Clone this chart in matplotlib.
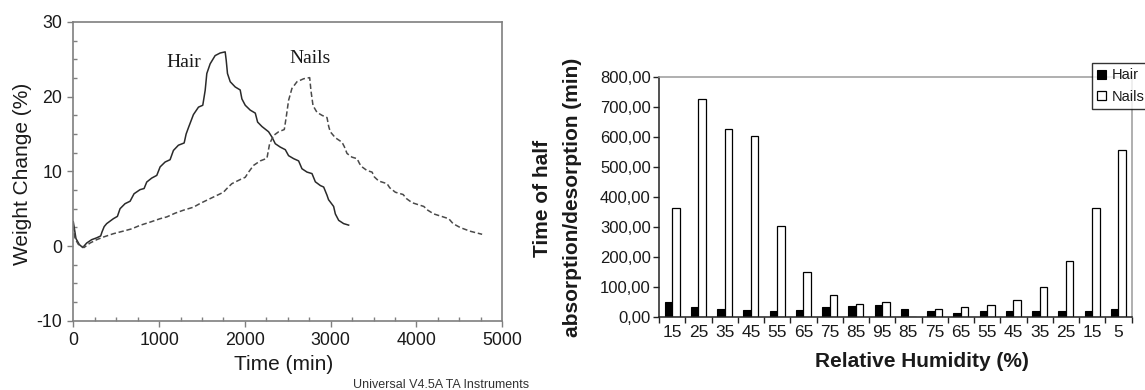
import matplotlib
matplotlib.use("Agg")
import matplotlib.pyplot as plt
import numpy as np
from matplotlib.ticker import MultipleLocator

# ---------------- data: left panel (sorption isotherm kinetics) ----------------
hair_time = [0, 31, 70, 110, 156, 214, 273, 319, 335, 360, 389, 467, 514,
             545, 603, 662, 708, 778, 825, 856, 914, 973, 1012, 1070, 1128,
             1167, 1225, 1292, 1315, 1342, 1400, 1459, 1509, 1537, 1556, 1595,
             1653, 1712, 1770, 1782, 1797, 1829, 1887, 1945, 1965, 2004, 2062,
             2121, 2148, 2199, 2276, 2315, 2354, 2412, 2471, 2509, 2568, 2626,
             2665, 2724, 2782, 2821, 2879, 2918, 2957, 2975, 2995, 3034, 3054,
             3093, 3151, 3209]
hair_weight = [3.25, 1.0, 0.2, -0.2, 0.4, 0.85, 1.1, 1.35, 1.9, 2.6, 3.0, 3.66, 3.97,
               5.0, 5.67, 6.0, 7.0, 7.55, 7.7, 8.57, 9.1, 9.46, 10.6, 11.25, 11.56,
               12.8, 13.5, 13.8, 15.0, 15.85, 17.6, 18.6, 18.85, 20.85, 23.1, 24.4,
               25.5, 25.85, 26.0, 24.9, 23.1, 22.0, 21.3, 20.9, 19.7, 18.85, 18.2,
               17.8, 16.6, 16.0, 15.3, 14.6, 13.7, 13.25, 12.9, 12.1, 11.7, 11.4,
               10.35, 9.9, 9.7, 8.6, 8.1, 7.9, 6.8, 6.2, 5.9, 5.3, 4.3,
               3.44, 3.0, 2.8]

nails_time = [0, 20, 59, 125, 195, 273, 350, 467, 584, 681, 778, 895, 1012, 1090,
              1187, 1284, 1400, 1478, 1595, 1750, 1790, 1848, 1945, 2004, 2043,
              2101, 2179, 2257, 2288, 2334, 2393, 2459, 2482, 2509, 2548, 2607,
              2685, 2755, 2770, 2794, 2840, 2899, 2957, 2977, 2995, 3054, 3132,
              3159, 3190, 3248, 3307, 3338, 3365, 3424, 3482, 3509, 3560, 3657,
              3688, 3754, 3844, 3883, 3949, 4085, 4131, 4201, 4376, 4426, 4512,
              4629, 4765]
nails_weight = [2.8, 1.0, 0.22, -0.2, 0.4, 0.85, 1.2, 1.65, 2.0, 2.3, 2.77, 3.2, 3.66, 3.9,
                4.4, 4.8, 5.2, 5.7, 6.35, 7.2, 7.7, 8.35, 8.9, 9.2, 9.9,
                10.8, 11.4, 11.75, 13.7, 14.8, 15.3, 15.6, 17.3, 19.5, 21.1, 22.0,
                22.4, 22.55, 20.8, 18.8, 17.9, 17.5, 17.2, 16.0, 15.3, 14.5, 13.9,
                13.3, 12.4, 11.9, 11.7, 11.0, 10.6, 10.1, 9.9, 9.25, 8.7, 8.35,
                7.8, 7.2, 6.9, 6.35, 5.8, 5.3, 4.8, 4.3, 3.66, 3.0, 2.46,
                1.97, 1.57]

# ---------------- data: right panel (half-time bars) ----------------
rh_labels = ["15", "25", "35", "45", "55", "65", "75", "85", "95",
             "85", "75", "65", "55", "45", "35", "25", "15", "5"]
hair_half = [48, 31, 27, 22, 19, 22, 31, 36, 39, 27, 18, 13, 18, 18, 18, 18, 18, 27]
nails_half = [363, 727, 627, 601, 303, 148, 74, 44, 48, 0, 27, 31, 39, 57, 100, 187, 363, 556]
y_ticks = [0, 100, 200, 300, 400, 500, 600, 700, 800]

plt.rcParams['font.family'] = ['Liberation Sans', 'DejaVu Sans']
plt.rcParams['axes.unicode_minus'] = False
TXT = '#1a1a1a'
W, H = 1145, 390

fig = plt.figure(figsize=(W / 100, H / 100), dpi=100)

# ---------------- left panel ----------------
ax1 = fig.add_axes([73.3 / W, 1 - 320.7 / H, 429 / W, 298.7 / H])
ax1.plot(hair_time, hair_weight, color='#2a2a2a', lw=1.1)
ax1.plot(nails_time, nails_weight, color='#4a4a4a', lw=1.1, linestyle=(0, (3.5, 1.8)))
ax1.set_xlim(0, 5000)
ax1.set_ylim(-10, 30)
ax1.xaxis.set_major_locator(MultipleLocator(1000))
ax1.xaxis.set_minor_locator(MultipleLocator(250))
ax1.yaxis.set_major_locator(MultipleLocator(10))
ax1.yaxis.set_minor_locator(MultipleLocator(2.5))
for sp in ax1.spines.values():
    sp.set_color('#7f7f7f')
    sp.set_linewidth(1.2)
ax1.tick_params(which='major', direction='out', length=4, width=1, color='#7f7f7f',
                labelcolor=TXT, labelsize=12.8, pad=4)
ax1.tick_params(which='minor', direction='in', length=3, width=1, color='#7f7f7f')
ax1.text(1080, 23.97, 'Hair', family=['Liberation Serif', 'DejaVu Serif'], fontsize=14,
         color=TXT, ha='left', va='baseline')
ax1.text(2513, 24.47, 'Nails', family=['Liberation Serif', 'DejaVu Serif'], fontsize=14,
         color=TXT, ha='left', va='baseline')
fig.text(283.5 / W, 1 - 370 / H, 'Time (min)', fontsize=15, color=TXT,
         ha='center', va='baseline')
fig.text(23 / W, 1 - 174 / H, 'Weight Change (%)', fontsize=15, color=TXT,
         ha='center', va='center', rotation=90)
fig.text(529 / W, 1 - 388 / H, 'Universal V4.5A TA Instruments', fontsize=9,
         color='#333333', ha='right', va='baseline')

# ---------------- right panel ----------------
ax2 = fig.add_axes([659 / W, 1 - 316.7 / H, 472.5 / W, 240 / H])
x = np.arange(len(rh_labels))
bw = 0.29
b1 = ax2.bar(x - bw, hair_half, width=bw, align='edge', color='black',
             edgecolor='black', lw=0.8, label='Hair')
b2 = ax2.bar(x, nails_half, width=bw, align='edge', color='white',
             edgecolor='black', lw=0.9, label='Nails')
ax2.set_xlim(-0.5, len(rh_labels) - 0.5)
ax2.set_ylim(0, 800)
ax2.set_xticks(x)
ax2.set_xticklabels(rh_labels)
ax2.set_xticks(np.arange(-0.5, len(rh_labels), 1), minor=True)
ax2.set_yticks(y_ticks)
ax2.set_yticklabels([f"{v:.2f}".replace('.', ',') for v in y_ticks])
ax2.tick_params(axis='x', which='major', length=0, pad=6, labelsize=12.5, labelcolor=TXT)
ax2.tick_params(axis='x', which='minor', length=4, direction='out', width=1, color='#222222')
ax2.tick_params(axis='y', length=4, direction='out', width=1, pad=2, labelsize=12,
                color='#222222', labelcolor=TXT)
ax2.spines['left'].set_color('#222222')
ax2.spines['bottom'].set_color('#222222')
ax2.spines['top'].set_color('#9a9a9a')
ax2.spines['right'].set_color('#9a9a9a')
for sp in ax2.spines.values():
    sp.set_linewidth(1.1)

fig.text(542.6 / W, 1 - 198 / H, 'Time of half', fontsize=15, fontweight='bold',
         color=TXT, ha='center', va='center', rotation=90)
fig.text(572.5 / W, 1 - 197 / H, 'absorption/desorption (min)', fontsize=15,
         fontweight='bold', color=TXT, ha='center', va='center', rotation=90)
fig.text(922 / W, 1 - 366.7 / H, 'Relative Humidity (%)', fontsize=15,
         fontweight='bold', color=TXT, ha='center', va='baseline')

leg = fig.legend(handles=[b1, b2], labels=['Hair', 'Nails'], loc='upper left',
                 bbox_to_anchor=(1092.3 / W, 1 - 63.3 / H), frameon=True, fancybox=False,
                 edgecolor='black', fontsize=10.5, handlelength=0.6, handleheight=0.6,
                 handletextpad=0.4, borderpad=0.35, labelspacing=0.5, borderaxespad=0)
leg.get_frame().set_linewidth(1.0)
for t in leg.get_texts():
    t.set_color(TXT)

fig.savefig('out.png', dpi=100)
